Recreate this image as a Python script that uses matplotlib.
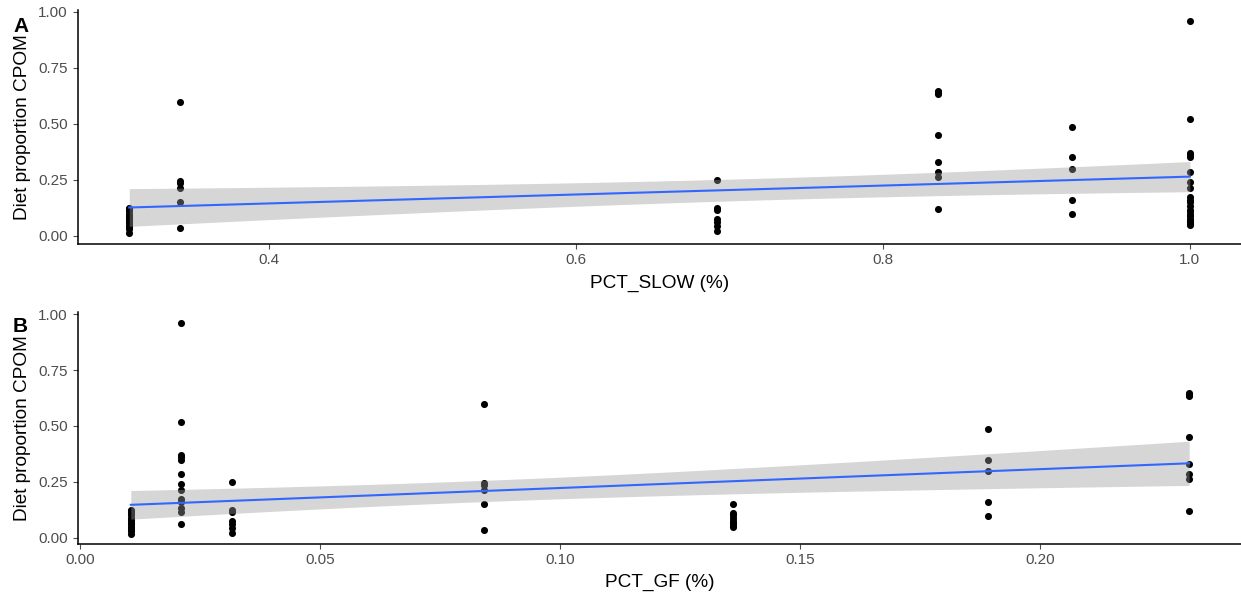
import numpy as np
import matplotlib
matplotlib.use("Agg")
import matplotlib.pyplot as plt

plt.rcParams['font.family'] = ['Liberation Sans', 'DejaVu Sans']

# sites: share of slow habitat, share of gatherer-filterers, CPOM diet proportions
site_slow = [0.309, 0.342, 0.692, 0.836, 0.923, 1.0, 1.0]
site_gf = [0.0105, 0.084, 0.0315, 0.231, 0.189, 0.021, 0.136]
site_cpom = [
    [0.125, 0.12, 0.11, 0.10, 0.09, 0.08, 0.07, 0.06, 0.06, 0.05, 0.04, 0.03, 0.015],
    [0.597, 0.247, 0.235, 0.214, 0.153, 0.036],
    [0.25, 0.125, 0.115, 0.075, 0.06, 0.045, 0.02],
    [0.646, 0.64, 0.635, 0.452, 0.33, 0.287, 0.262, 0.121],
    [0.488, 0.35, 0.298, 0.162, 0.098],
    [0.96, 0.52, 0.37, 0.36, 0.35, 0.285, 0.24, 0.215, 0.175, 0.16, 0.135, 0.115, 0.06],
    [0.152, 0.11, 0.10, 0.088, 0.075, 0.066, 0.055, 0.048],
]

slow = np.concatenate([[s] * len(v) for s, v in zip(site_slow, site_cpom)])
gf = np.concatenate([[g] * len(v) for g, v in zip(site_gf, site_cpom)])
cpom = np.concatenate(site_cpom)

T_CRIT = 2.003  # t(0.975, df ~ 58)
GREY_TXT = '#4d4d4d'


def lm_band(x, y, n=80):
    X = np.column_stack([np.ones_like(x), x])
    beta, res, _, _ = np.linalg.lstsq(X, y, rcond=None)
    resid = y - X @ beta
    s2 = resid @ resid / (len(x) - 2)
    cov = s2 * np.linalg.inv(X.T @ X)
    xs = np.linspace(x.min(), x.max(), n)
    G = np.column_stack([np.ones_like(xs), xs])
    fit = G @ beta
    se = np.sqrt(np.einsum('ij,jk,ik->i', G, cov, G))
    return xs, fit, fit - T_CRIT * se, fit + T_CRIT * se


fig = plt.figure(figsize=(12.41, 6.02), dpi=100)
W, H = 1241, 602
axA = fig.add_axes([78 / W, 1 - 244 / H, (1241 - 78) / W, 234 / H])
axB = fig.add_axes([78 / W, 1 - 544 / H, (1241 - 78) / W, 232 / H])

panels = [
    (axA, slow, 'PCT_SLOW (%)', (0.2756, 1.0333), (-0.036, 1.008),
     [0.4, 0.6, 0.8, 1.0], ['0.4', '0.6', '0.8', '1.0'], 'A', 32),
    (axB, gf, 'PCT_GF (%)', (-0.0005, 0.2418), (-0.028, 1.01),
     [0.0, 0.05, 0.10, 0.15, 0.20], ['0.00', '0.05', '0.10', '0.15', '0.20'], 'B', 332),
]

for ax, x, xlab, xlim, ylim, xt, xtl, tag, tag_y in panels:
    ax.scatter(x, cpom, s=26, color='black', linewidths=0, zorder=2)
    xs, fit, lo, hi = lm_band(x, cpom)
    ax.fill_between(xs, lo, hi, color='#999999', alpha=0.4, linewidth=0, zorder=3)
    ax.plot(xs, fit, color='#3366FF', lw=1.5, zorder=4)

    ax.set_xlim(*xlim)
    ax.set_ylim(*ylim)
    ax.set_xticks(xt)
    ax.set_xticklabels(xtl)
    ax.set_yticks([0, 0.25, 0.5, 0.75, 1.0])
    ax.set_yticklabels(['0.00', '0.25', '0.50', '0.75', '1.00'])
    ax.tick_params(axis='both', labelsize=11, colors=GREY_TXT, length=3.3, width=0.8,
                   labelcolor=GREY_TXT)
    ax.tick_params(axis='y', pad=4)
    ax.tick_params(axis='x', pad=3)
    for side in ['top', 'right']:
        ax.spines[side].set_visible(False)
    for side in ['left', 'bottom']:
        ax.spines[side].set_linewidth(1.1)
        ax.spines[side].set_color('black')

    ax.set_xlabel(xlab, fontsize=13.7, va='center')
    ax.xaxis.set_label_coords(0.5, -0.167)
    ax.set_ylabel('Diet proportion CPOM', fontsize=13.7, va='center')
    ax.yaxis.set_label_coords(-0.0473, 0.5)

    fig.text(13 / W, 1 - tag_y / H, tag, fontsize=15, fontweight='bold', va='baseline')

fig.savefig('out.png', dpi=100)
